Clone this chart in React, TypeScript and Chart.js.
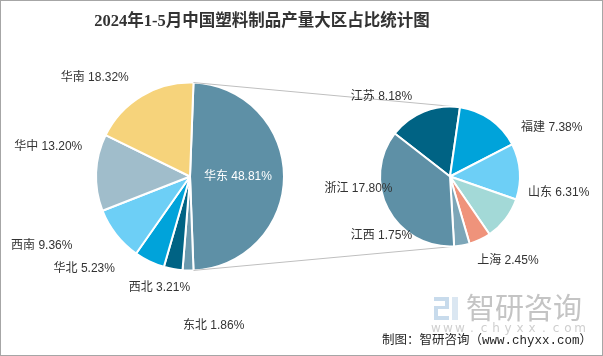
import React, { useEffect, useRef } from "react";
import { Chart, registerables } from "chart.js";

Chart.register(...registerables);

const TITLE = "2024年1-5月中国塑料制品产量大区占比统计图";
const SOURCE = "制图：智研咨询（www.chyxx.com）";
const WATERMARK = "智研咨询";
const WATERMARK_URL = "www.chyxx.com";

const regionLabels = ["华东", "东北", "西北", "华北", "西南", "华中", "华南"];
const regionValues = [48.81, 1.86, 3.21, 5.23, 9.36, 13.2, 18.32];
const regionColors = ["#5e90a6", "#6b99ad", "#006384", "#00a3da", "#6dcff6", "#a0bdcb", "#f6d37b"];

const provinceLabels = ["江苏", "福建", "山东", "安徽", "上海", "江西", "浙江"];
const provinceValues = [8.18, 7.38, 6.31, 4.94, 2.45, 1.75, 17.8];
const provinceColors = ["#006384", "#00a3da", "#6dcff6", "#a3d9d7", "#ef937b", "#7ca6b8", "#5e90a6"];
const provinceShowLabel = [true, true, true, false, true, true, true];

// label placement: [angle shift from slice middle (deg), radius factor]
const regionPlacement: [number, number][] = [
  [0, 0.51], [-10.2, 1.61], [5, 1.23], [23.5, 1.49], [13.2, 1.74], [9.3, 1.54], [-13.1, 1.46],
];
const provincePlacement: [number, number][] = [
  [-18.8, 1.5], [29.1, 1.61], [12.7, 1.57], [0, 1], [-9.2, 1.46], [59.3, 1.29], [19.9, 1.32],
];
const regionLabelColors = ["#ffffff", "#333333", "#333333", "#333333", "#333333", "#333333", "#333333"];

const LABEL_FONT = '12px "Liberation Sans", "Noto Sans CJK SC", sans-serif';
const W = 603;
const H = 356;

function makeLabelPlugin(id: string, labels: string[], values: number[], placement: [number, number][], colors: string[], show: boolean[]) {
  return {
    id,
    afterDatasetsDraw(chart: any) {
      const meta = chart.getDatasetMeta(0);
      const ctx = chart.ctx;
      ctx.save();
      ctx.font = LABEL_FONT;
      ctx.textAlign = "center";
      ctx.textBaseline = "middle";
      meta.data.forEach((arc: any, i: number) => {
        if (!show[i]) return;
        const p = arc.getProps(["x", "y", "startAngle", "endAngle", "outerRadius"], true);
        const a = (p.startAngle + p.endAngle) / 2 + (placement[i][0] * Math.PI) / 180;
        const r = p.outerRadius * placement[i][1];
        ctx.fillStyle = colors[i];
        ctx.fillText(`${labels[i]} ${values[i].toFixed(2)}%`, p.x + r * Math.cos(a), p.y + r * Math.sin(a));
      });
      ctx.restore();
    },
  };
}

const decorPlugin = {
  id: "decor",
  afterDraw(chart: any) {
    const ctx = chart.ctx;
    ctx.save();
    // title
    ctx.fillStyle = "#333333";
    ctx.font = 'bold 16.5px "Liberation Serif", "Noto Sans CJK SC", serif';
    ctx.textAlign = "center";
    ctx.textBaseline = "middle";
    ctx.fillText(TITLE, 262, 22);
    // logo
    ctx.fillStyle = "#c8dbec";
    ctx.fillRect(434, 297, 15, 4);
    ctx.fillRect(445, 297, 4, 11);
    ctx.fillRect(434, 306, 15, 3);
    ctx.fillRect(434, 306, 4, 14);
    ctx.fillRect(434, 316, 15, 4);
    ctx.fillStyle = "#dbe7f2";
    ctx.fillRect(452, 297, 6, 23);
    // watermark
    ctx.fillStyle = "#c4c4c4";
    ctx.font = '29px "Noto Sans CJK SC", sans-serif';
    ctx.textAlign = "left";
    ctx.fillText(WATERMARK, 466, 308);
    ctx.font = '12px "DejaVu Sans", sans-serif';
    ctx.textAlign = "center";
    ctx.fillStyle = "#cfcfcf";
    WATERMARK_URL.split("").forEach((c, i) => ctx.fillText(c, 436 + i * 12, 329));
    // source
    ctx.fillStyle = "#262626";
    ctx.font = '12.5px "Liberation Mono", "Noto Sans CJK SC", monospace';
    ctx.textAlign = "right";
    ctx.fillText(SOURCE, 592, 341);
    ctx.restore();
  },
};

export default function App() {
  const leftRef = useRef<HTMLCanvasElement>(null);
  const rightRef = useRef<HTMLCanvasElement>(null);

  useEffect(() => {
    const total1 = regionValues.reduce((a, b) => a + b, 0);
    const c1 = new Chart(leftRef.current!, {
      type: "pie",
      data: {
        labels: regionLabels,
        datasets: [
          {
            data: regionValues,
            backgroundColor: regionColors,
            borderColor: "#ffffff",
            borderWidth: 2,
          },
        ],
      },
      options: {
        responsive: false,
        animation: false,
        events: [],
        rotation: 90 - (regionValues[0] / total1) * 180,
        layout: { padding: { left: 95, right: 318, top: 81.5, bottom: 84.5 } },
        plugins: {
          legend: { display: false },
          tooltip: { enabled: false },
          title: { display: false },
        },
      } as any,
      plugins: [makeLabelPlugin("leftLabels", regionLabels, regionValues, regionPlacement, regionLabelColors, regionLabels.map(() => true)), decorPlugin],
    });

    const connectPlugin = {
      id: "connect",
      beforeDatasetsDraw(chart: any) {
        const big = c1.getDatasetMeta(0).data[0] as any;
        const bp = big.getProps(["x", "y", "startAngle", "endAngle", "outerRadius"], true);
        const small = chart.getDatasetMeta(0).data[0] as any;
        const sp = small.getProps(["x", "y", "outerRadius"], true);
        const ctx = chart.ctx;
        const tangent = (px: number, py: number, sign: number) => {
          const dx = sp.x - px;
          const dy = sp.y - py;
          const d = Math.hypot(dx, dy);
          const th = Math.atan2(dy, dx);
          const al = Math.asin(sp.outerRadius / d);
          const phi = th + sign * al;
          const len = d * Math.cos(al);
          return [px + len * Math.cos(phi), py + len * Math.sin(phi)];
        };
        const p1 = [bp.x + bp.outerRadius * Math.cos(bp.startAngle), bp.y + bp.outerRadius * Math.sin(bp.startAngle)];
        const p2 = [bp.x + bp.outerRadius * Math.cos(bp.endAngle), bp.y + bp.outerRadius * Math.sin(bp.endAngle)];
        const t1 = tangent(p1[0], p1[1], -1);
        const t2 = tangent(p2[0], p2[1], 1);
        ctx.save();
        ctx.strokeStyle = "#bfbfbf";
        ctx.lineWidth = 1;
        ctx.beginPath();
        ctx.moveTo(p1[0], p1[1]);
        ctx.lineTo(t1[0], t1[1]);
        ctx.moveTo(p2[0], p2[1]);
        ctx.lineTo(t2[0], t2[1]);
        ctx.stroke();
        ctx.restore();
      },
    };

    const c2 = new Chart(rightRef.current!, {
      type: "pie",
      data: {
        labels: provinceLabels,
        datasets: [
          {
            data: provinceValues,
            backgroundColor: provinceColors,
            borderColor: "#ffffff",
            borderWidth: 2,
          },
        ],
      },
      options: {
        responsive: false,
        animation: false,
        events: [],
        rotation: -52.1,
        layout: { padding: { left: 379, right: 82, top: 105.5, bottom: 108.5 } },
        plugins: {
          legend: { display: false },
          tooltip: { enabled: false },
          title: { display: false },
        },
      } as any,
      plugins: [connectPlugin, makeLabelPlugin("rightLabels", provinceLabels, provinceValues, provincePlacement, provinceLabels.map(() => "#333333"), provinceShowLabel)],
    });

    return () => {
      c2.destroy();
      c1.destroy();
    };
  }, []);

  return (
    <div style={{ position: "fixed", left: 0, top: 0, width: W, height: H, background: "#ffffff" }}>
      <canvas ref={leftRef} width={W} height={H} style={{ position: "absolute", left: 0, top: 0 }} />
      <canvas ref={rightRef} width={W} height={H} style={{ position: "absolute", left: 0, top: 0 }} />
      <div
        style={{
          position: "absolute",
          left: 0,
          top: 0,
          width: W,
          height: H,
          boxSizing: "border-box",
          border: "1px solid #a6a6a6",
          pointerEvents: "none",
        }}
      />
    </div>
  );
}
